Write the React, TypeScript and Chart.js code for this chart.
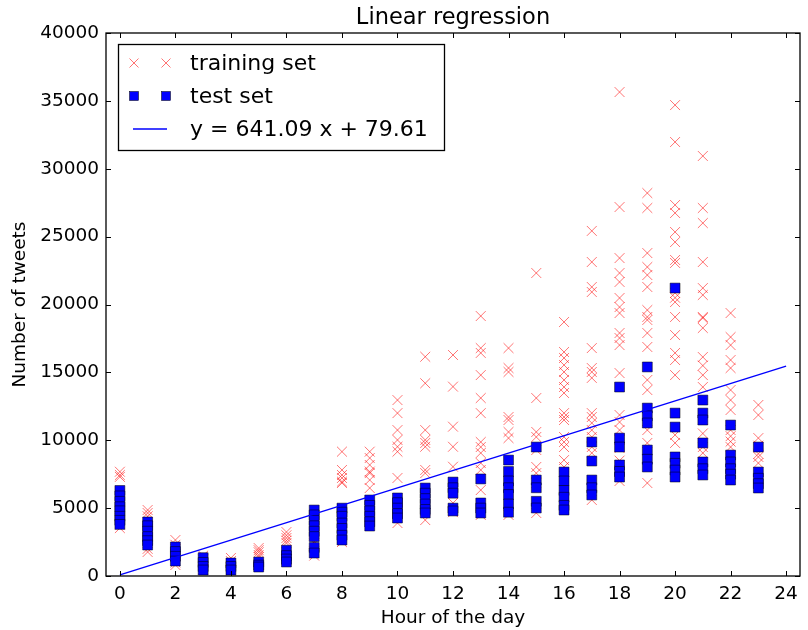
import React, { useEffect, useRef } from "react";
import { Chart, registerables } from "chart.js";

Chart.register(...registerables);

const hours = [0, 1, 2, 3, 4, 5, 6, 7, 8, 9, 10, 11, 12, 13, 14, 15, 16, 17, 18, 19, 20, 21, 22, 23];

const trainingByHour: number[][] = [
  [7680, 7440, 7300, 6000, 5000, 4200, 3800, 3530],
  [4860, 4640, 4400, 3460, 2000, 1770],
  [2650, 2300, 1000, 810],
  [1500, 1200, 500],
  [1330, 1100, 400],
  [2060, 1900, 1750, 1550, 1400],
  [3240, 3000, 2800, 2600, 2430, 1200],
  [3000, 2530, 2400, 1500],
  [9160, 7810, 7440, 7220, 6950, 6850, 4270, 3270, 2500],
  [9160, 8690, 8180, 7690, 7580, 7070, 6480, 4000],
  [12960, 12000, 10750, 10020, 9520, 9160, 7220, 3900],
  [16150, 14200, 10750, 10020, 9800, 9520, 7810, 7580, 4120],
  [16280, 13950, 11000, 9520, 8050, 5380, 4700],
  [19150, 16790, 16430, 14800, 13110, 12000, 9870, 9500, 9060, 8320, 7810, 6330, 4500],
  [16790, 15320, 15030, 11710, 11490, 10610, 10160, 4500],
  [22320, 13110, 10610, 10240, 9280, 8030, 7580, 6850, 4640],
  [18710, 16500, 16060, 15540, 15030, 14440, 13920, 13480, 12000, 11710, 11490, 10240, 9870, 9500, 8540, 8030, 5000],
  [25420, 23130, 21290, 20920, 16790, 15320, 15030, 14590, 12000, 11710, 11270, 10750, 10240, 9500, 9060, 5600],
  [35650, 27180, 23420, 22320, 21660, 20480, 19810, 19370, 17900, 17530, 17010, 14950, 11860, 11340, 10750, 10020, 9430, 8500, 7000],
  [28210, 27110, 23790, 22760, 22170, 21290, 19590, 19080, 18860, 17900, 16870, 14440, 13700, 10750, 9800, 6850],
  [34690, 31970, 27330, 26740, 25340, 24600, 23280, 23060, 20850, 20500, 20180, 19080, 17750, 16430, 15910, 14800, 10390, 9800],
  [30940, 27110, 26000, 23130, 21210, 20700, 19080, 19000, 18270, 16130, 15500, 14800, 13920, 11490, 10500, 9500, 9060],
  [19370, 17600, 17010, 15910, 15320, 13700, 12960, 12230, 10750, 10300, 9900, 9500],
  [12600, 11860, 10160, 9600, 9000, 8770, 8320],
];

const testByHour: number[][] = [
  [6300, 5900, 5500, 5100, 4800, 4400, 4100, 3800],
  [3980, 3700, 3300, 2900, 2600, 2280],
  [2140, 1800, 1450, 1100],
  [1350, 1000, 700, 440],
  [960, 700, 440],
  [1030, 800, 660],
  [1900, 1500, 1250, 1030],
  [4860, 4500, 4100, 3700, 3300, 2900, 2100, 1690],
  [5000, 4700, 4400, 3900, 3500, 3000, 2650],
  [5600, 5200, 4800, 4400, 4000, 3680],
  [5750, 5400, 5000, 4600, 4270],
  [6480, 6100, 5700, 5300, 4900, 4640],
  [6920, 6500, 6100, 5000, 4790],
  [7150, 5380, 5000, 4640],
  [8540, 7700, 7000, 6500, 6000, 5300, 4700],
  [9500, 7070, 6500, 5500, 5010],
  [7660, 7000, 6300, 5800, 5200, 4860],
  [9870, 8470, 7070, 6500, 5970],
  [13920, 10160, 9500, 8180, 7700, 7290],
  [15400, 12370, 11800, 11270, 9280, 8600, 8030],
  [21210, 12000, 10970, 8770, 8300, 7800, 7290],
  [12960, 12000, 11490, 9800, 8400, 7900, 7440],
  [11120, 8910, 8400, 7900, 7500, 7070],
  [9500, 7660, 7200, 6800, 6480],
];

const slope = 641.09;
const intercept = 79.61;
const fitX = [0, 24];
const fitY = [79.61, 15465.77];

const xTicks = [0, 2, 4, 6, 8, 10, 12, 14, 16, 18, 20, 22, 24];
const yTicks = [0, 5000, 10000, 15000, 20000, 25000, 30000, 35000, 40000];

const titleText = "Linear regression";
const xLabel = "Hour of the day";
const yLabel = "Number of tweets";
const trainLabel = "training set";
const testLabel = "test set";
const fitLabel = `y = ${slope.toFixed(2)} x + ${intercept.toFixed(2)}`;

const FONT = "'DejaVu Sans', sans-serif";
const RED = "rgba(255,0,0,0.55)";
const BLUE = "#0000ff";

const decorPlugin = {
  id: "decor",
  afterDraw(chart: any) {
    const { ctx, chartArea } = chart;
    const { left, right, top, bottom } = chartArea;
    const xs = chart.scales.x;
    const ys = chart.scales.y;
    ctx.save();
    // frame
    ctx.strokeStyle = "#000";
    ctx.lineWidth = 1.3;
    ctx.strokeRect(left, top, right - left, bottom - top);
    // inward ticks
    ctx.lineWidth = 1;
    const tl = 5;
    ctx.beginPath();
    for (const v of xTicks) {
      const px = Math.round(xs.getPixelForValue(v)) + 0.5;
      ctx.moveTo(px, bottom);
      ctx.lineTo(px, bottom - tl);
      ctx.moveTo(px, top);
      ctx.lineTo(px, top + tl);
    }
    for (const v of yTicks) {
      const py = Math.round(ys.getPixelForValue(v)) + 0.5;
      ctx.moveTo(left, py);
      ctx.lineTo(left + tl, py);
      ctx.moveTo(right, py);
      ctx.lineTo(right - tl, py);
    }
    ctx.stroke();

    // title
    ctx.fillStyle = "#000";
    ctx.font = `22.5px ${FONT}`;
    ctx.textAlign = "center";
    ctx.textBaseline = "middle";
    ctx.fillText(titleText, (left + right) / 2, 18.5);

    // legend
    const lx = 118, ly = 44, lw = 326, lh = 106;
    ctx.fillStyle = "#fff";
    ctx.fillRect(lx, ly, lw, lh);
    ctx.strokeStyle = "#000";
    ctx.lineWidth = 1.3;
    ctx.strokeRect(lx + 0.5, ly + 0.5, lw, lh);
    const rows = [63, 96, 129];
    const mx = [134, 166];
    // training markers
    ctx.strokeStyle = RED;
    ctx.lineWidth = 1;
    for (const x of mx) {
      const s = 4.5;
      ctx.beginPath();
      ctx.moveTo(x - s, rows[0] - s);
      ctx.lineTo(x + s, rows[0] + s);
      ctx.moveTo(x + s, rows[0] - s);
      ctx.lineTo(x - s, rows[0] + s);
      ctx.stroke();
    }
    // test markers
    for (const x of mx) {
      const s = 4.5;
      ctx.fillStyle = BLUE;
      ctx.fillRect(x - s, rows[1] - s, 2 * s, 2 * s);
      ctx.strokeStyle = "#000";
      ctx.lineWidth = 0.5;
      ctx.strokeRect(x - s, rows[1] - s, 2 * s, 2 * s);
    }
    // line
    ctx.strokeStyle = BLUE;
    ctx.lineWidth = 1.3;
    ctx.beginPath();
    ctx.moveTo(133, rows[2]);
    ctx.lineTo(167, rows[2]);
    ctx.stroke();
    ctx.fillStyle = "#000";
    ctx.font = `22px ${FONT}`;
    ctx.textAlign = "left";
    ctx.textBaseline = "middle";
    ctx.fillText(trainLabel, 190, rows[0] + 1.5);
    ctx.fillText(testLabel, 190, rows[1] + 1.5);
    ctx.fillText(fitLabel, 190, rows[2] + 1.5);
    ctx.restore();
  },
};

export default function App() {
  const ref = useRef<HTMLCanvasElement | null>(null);
  useEffect(() => {
    document.body.style.margin = "0";
    const canvas = ref.current;
    if (!canvas) return;
    const trainPts: { x: number; y: number }[] = [];
    const testPts: { x: number; y: number }[] = [];
    hours.forEach((h, i) => {
      trainingByHour[i].forEach((v) => trainPts.push({ x: h, y: v }));
      testByHour[i].forEach((v) => testPts.push({ x: h, y: v }));
    });
    const fitPts = fitX.map((x, i) => ({ x, y: fitY[i] }));
    const chart = new Chart(canvas, {
      type: "scatter",
      data: {
        datasets: [
          {
            label: trainLabel,
            data: trainPts,
            pointStyle: "crossRot",
            pointRadius: 7,
            pointHoverRadius: 7,
            borderColor: RED,
            backgroundColor: RED,
            pointBorderWidth: 1,
            order: 3,
          },
          {
            label: testLabel,
            data: testPts,
            pointStyle: "rect",
            pointRadius: 7,
            pointHoverRadius: 7,
            backgroundColor: BLUE,
            borderColor: "#000",
            pointBorderWidth: 0.5,
            order: 2,
          },
          {
            type: "line",
            label: fitLabel,
            data: fitPts,
            borderColor: BLUE,
            borderWidth: 1.4,
            pointRadius: 0,
            showLine: true,
            fill: false,
            order: 1,
          } as any,
        ],
      },
      options: {
        responsive: false,
        animation: false,
        events: [],
        layout: { padding: { left: 0, right: 1, top: 33, bottom: 0 } },
        plugins: {
          legend: { display: false },
          title: { display: false },
          tooltip: { enabled: false },
        },
        scales: {
          x: {
            type: "linear",
            min: -0.5,
            max: 24.5,
            grid: { display: false, drawTicks: false },
            border: { display: false },
            afterBuildTicks: (s: any) => {
              s.ticks = xTicks.map((value) => ({ value }));
            },
            afterFit: (s: any) => {
              s.height = 54;
            },
            ticks: {
              color: "#000",
              font: { family: FONT, size: 18.5 },
              padding: 7,
              maxRotation: 0,
              autoSkip: false,
            },
            title: {
              display: true,
              text: xLabel,
              color: "#000",
              font: { family: FONT, size: 18.5 },
              padding: { top: 0, bottom: 0.5 },
            },
          },
          y: {
            type: "linear",
            min: 0,
            max: 40000,
            grid: { display: false, drawTicks: false },
            border: { display: false },
            afterBuildTicks: (s: any) => {
              s.ticks = yTicks.map((value) => ({ value }));
            },
            afterFit: (s: any) => {
              s.width = 106;
            },
            ticks: {
              color: "#000",
              font: { family: FONT, size: 18.5 },
              padding: 7,
              autoSkip: false,
              callback: (v: any) => String(v),
            },
            title: {
              display: true,
              text: yLabel,
              color: "#000",
              font: { family: FONT, size: 18.5 },
              padding: { top: 9, bottom: 0 },
            },
          },
        },
      },
      plugins: [decorPlugin],
    });
    return () => chart.destroy();
  }, []);
  return <canvas ref={ref} width={808} height={630} style={{ display: "block" }} />;
}
